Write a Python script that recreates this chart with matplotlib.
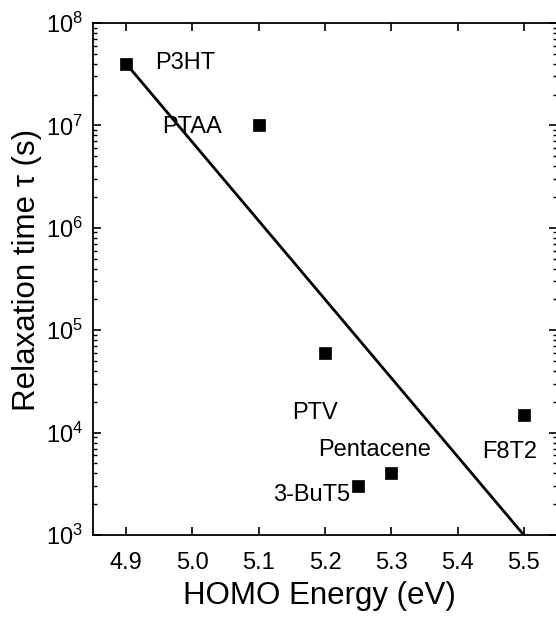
import matplotlib
matplotlib.use('Agg')
import matplotlib.pyplot as plt
from matplotlib.ticker import LogLocator, NullFormatter

plt.rcParams['font.family'] = ['Liberation Sans', 'DejaVu Sans']
plt.rcParams['mathtext.fontset'] = 'custom'
plt.rcParams['mathtext.rm'] = 'Liberation Sans'
plt.rcParams['mathtext.it'] = 'Liberation Sans:italic'

# materials and values
names = ['P3HT', 'PTAA', 'PTV', '3-BuT5', 'Pentacene', 'F8T2']
homo = [4.9, 5.1, 5.2, 5.25, 5.3, 5.5]
tau = [4e7, 1e7, 6e4, 3e3, 4e3, 1.5e4]

# fit line end points
fit_x = [4.9, 5.5]
fit_y = [4e7, 1e3]

# label anchor (left, centre) for each material
label_x = [4.943, 4.955, 5.15, 5.121, 5.189, 5.437]
label_y = [10**7.61, 10**6.98, 10**4.19, 10**3.39, 10**3.83, 10**3.81]

fig = plt.figure(figsize=(5.56, 6.2), dpi=100)
ax = fig.add_axes([0.1673, 0.137, 1.0018 - 0.1673, 0.963 - 0.137])

ax.plot(fit_x, fit_y, color='black', lw=2, zorder=2)
ax.plot(homo, tau, 's', color='black', markersize=8, mew=0.5, zorder=3)

for n, lx, ly in zip(names, label_x, label_y):
    ax.text(lx, ly, n, fontsize=17, ha='left', va='center')

ax.set_yscale('log')
ax.set_xlim(4.85, 5.55)
ax.set_ylim(1e3, 1e8)
ax.set_xticks([4.9, 5.0, 5.1, 5.2, 5.3, 5.4, 5.5])
ax.set_xticklabels(['4.9', '5.0', '5.1', '5.2', '5.3', '5.4', '5.5'])
ax.yaxis.set_major_locator(LogLocator(base=10, numticks=10))
ax.yaxis.set_minor_locator(LogLocator(base=10, subs=range(2, 10), numticks=50))
ax.yaxis.set_minor_formatter(NullFormatter())

ax.tick_params(axis='both', which='major', direction='in', length=6, width=1.2,
               labelsize=17, top=True, right=True)
ax.tick_params(axis='x', which='major', pad=12)
ax.tick_params(axis='y', which='major', pad=7)
ax.tick_params(axis='y', which='minor', direction='in', length=3, width=1,
               right=True, left=True)
for s in ax.spines.values():
    s.set_linewidth(1.3)

ax.set_xlabel('HOMO Energy (eV)', fontsize=22.5)
ax.set_ylabel('Relaxation time \u03c4 (s)', fontsize=22.5)
ax.xaxis.set_label_coords(0.489, -0.09)
ax.yaxis.set_label_coords(-0.11, 0.518)

fig.savefig('out.png', dpi=100)
